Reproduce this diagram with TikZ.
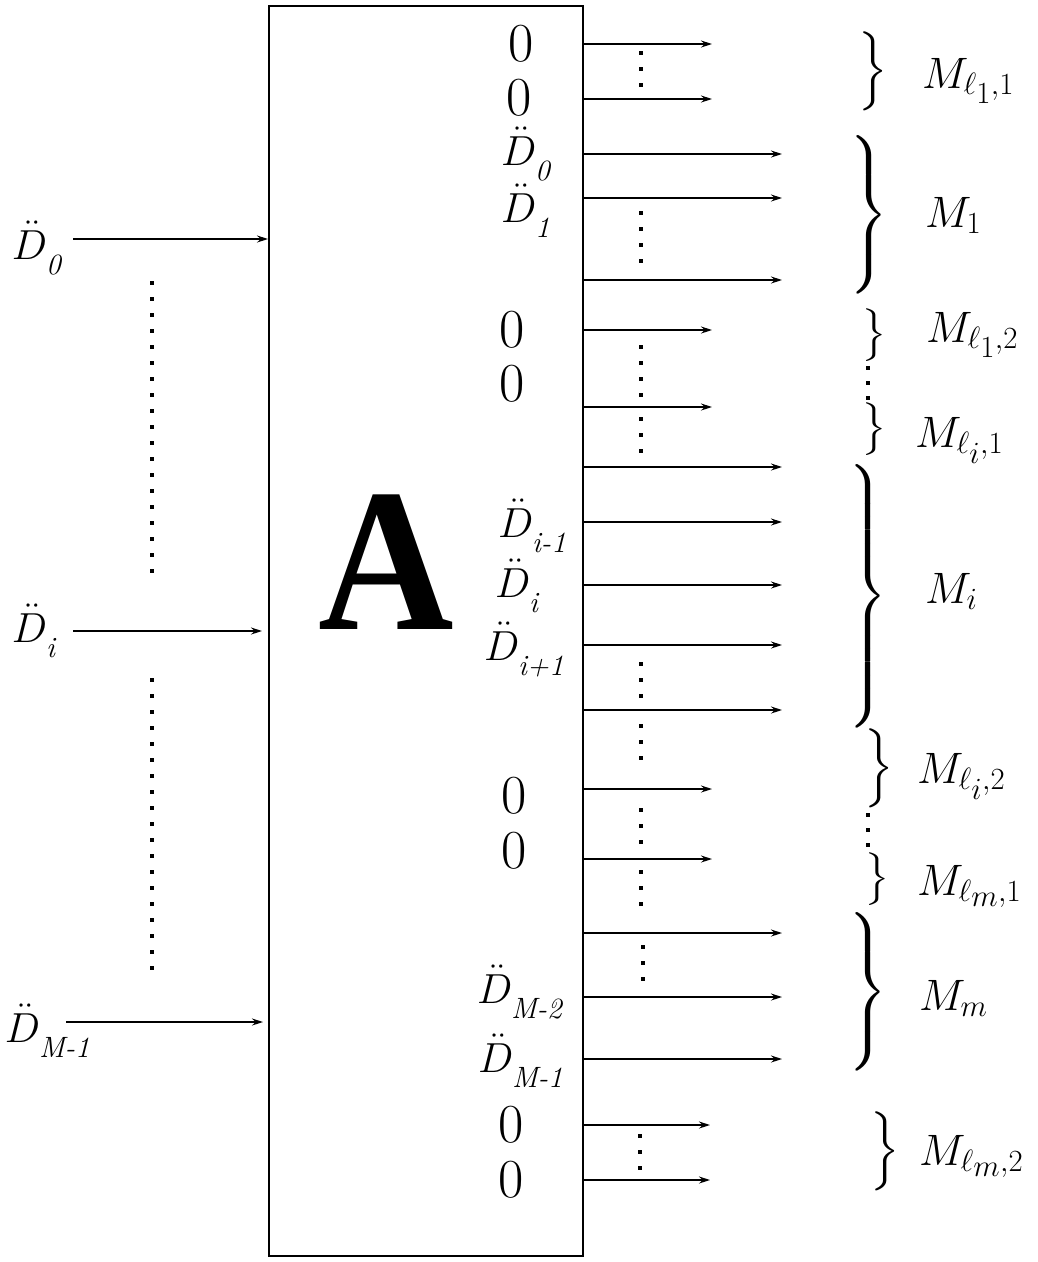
\RequirePackage{fix-cm}
\documentclass[tikz,border=0pt]{standalone}
\usepackage{amsmath}
\usepackage{graphicx}
\usepackage{fontspec}
\newfontfamily\Afont{Liberation Serif}
\usetikzlibrary{arrows.meta}
\DeclareFontShape{OMX}{cmex}{m}{n}{<->cmex10}{}
\DeclareMathSizes{42}{42}{29.4}{29.4}
\DeclareMathSizes{44}{44}{30.8}{30.8}
\newcommand{\dd}[1]{\ddot{D}_{\lower9pt\hbox{\fontsize{29.4}{30}\selectfont\itshape #1}}}
\newcommand{\brc}[1]{$\left.\vcenter{\hrule height #1pt width 0pt}\right\}$}
\newcommand{\vd}[4]{\foreach \k in {1,...,#3} {\fill ({#1-2},{#2+(\k-1)*#4-2}) rectangle ++(4,4);}}
\tikzset{
  lab/.style={inner sep=0pt, outer sep=0pt},
  zero/.style={lab, font=\fontsize{55}{60}\selectfont},
  dlab/.style={lab, anchor=base west, font=\fontsize{42}{50}\selectfont},
  mlab/.style={lab, anchor=base west, font=\fontsize{44}{50}\selectfont},
  brace/.style={lab, anchor=west, font=\fontsize{44}{50}\selectfont},
  arr/.style={-{Stealth[length=11pt,width=7pt]}, line width=1.2pt},
}
\begin{document}
\begin{tikzpicture}[x=1pt,y=-1pt]
\useasboundingbox (0,0) rectangle (1037,1262);
% main box
\node[draw, line width=1.6pt, minimum width=314pt, minimum height=1250pt, anchor=north west, inner sep=0pt] (box) at (268,5) {};
\node[lab, font=\fontsize{204}{210}\selectfont\Afont\bfseries] (A) at (386,562) {\scalebox{0.92}[1]{A}};
% left inputs
\node[dlab] (in0) at (12,259) {$\dd{0}$};
\node[dlab] (ini) at (12,642) {$\dd{i}$};
\node[dlab] (inM) at (5,1042) {$\dd{M-1}$};
\coordinate (s0) at (73,239);
\coordinate (si) at (73,631);
\coordinate (ti) at (262,631);
\coordinate (sM) at (66,1022);
\coordinate (tM) at (263,1022);
\draw[arr] (s0) -- (s0 -| box.west);
\draw[arr] (si) -- (ti);
\draw[arr] (sM) -- (tM);
\vd{152}{283}{19}{16}
\vd{152}{680}{19}{16}
% inner labels
\node[zero] (z1) at (521,44) {0};
\node[zero] (z2) at (519,98) {0};
\node[dlab] (d0) at (501,165) {$\dd{0}$};
\node[dlab] (d1) at (501,222) {$\dd{1}$};
\node[zero] (z3) at (512,330) {0};
\node[zero] (z4) at (512,384) {0};
\node[dlab] (dim) at (498,537) {$\dd{i-1}$};
\node[dlab] (di) at (495,597) {$\dd{i}$};
\node[dlab] (dip) at (484,660) {$\dd{i+1}$};
\node[zero] (z5) at (514,796) {0};
\node[zero] (z6) at (514,851) {0};
\node[dlab] (dM2) at (477,1003) {$\dd{M-2}$};
\node[dlab] (dM1) at (478,1072) {$\dd{M-1}$};
\node[zero] (z7) at (511,1125) {0};
\node[zero] (z8) at (511,1180) {0};
% outputs
\foreach \y/\e [count=\n] in {44/712, 99/712, 154/782, 198/782, 280/782, 330/712, 407/712, 467/782, 522/782, 585/782, 645/782, 710/782, 789/712, 859/712, 933/782, 997/782, 1059/782, 1125/710, 1180/710} {
  \coordinate (o\n) at (\e,\y);
  \draw[arr] (o\n -| box.east) -- (o\n);
}
\vd{641}{53}{3}{16}
\vd{641}{213}{4}{16}
\vd{641}{347}{4}{16}
\vd{641}{419}{3}{16}
\vd{641}{664}{3}{16}
\vd{641}{726}{3}{16}
\vd{641}{810}{3}{16}
\vd{641}{872}{3}{16}
\vd{643}{947}{3}{16}
\vd{640}{1136}{3}{16}
% braces
\node[brace] (b1) at (857,71) {\brc{70}};
\node[brace] (b2) at (848,215) {\brc{155}};
\node[brace] (b3) at (860,335) {\brc{57}};
\node[brace] (b4) at (860,429) {\brc{55}};
\node[brace] (b5) at (847,596) {\brc{258}};
\node[brace] (b6) at (863,768) {\brc{70}};
\node[brace] (b7) at (863,879) {\brc{55}};
\node[brace] (b8) at (847,992) {\brc{151}};
\node[brace] (b9) at (869,1151) {\brc{68}};
\vd{868}{368}{3}{15}
\vd{868}{815}{3}{15}
% group labels
\node[mlab] (m1) at (922,88) {$M_{\ell_1,1}$};
\node[mlab] (m2) at (925,227) {$M_1$};
\node[mlab] (m3) at (926,342) {$M_{\ell_1,2}$};
\node[mlab] (m4) at (915,447) {$M_{\ell_i,1}$};
\node[mlab] (m5) at (925,603) {$M_i$};
\node[mlab] (m6) at (917,783) {$M_{\ell_i,2}$};
\node[mlab] (m7) at (917,895) {$M_{\ell_m,1}$};
\node[mlab] (m8) at (919,1010) {$M_m$};
\node[mlab] (m9) at (919,1165) {$M_{\ell_m,2}$};
\end{tikzpicture}
\end{document}
